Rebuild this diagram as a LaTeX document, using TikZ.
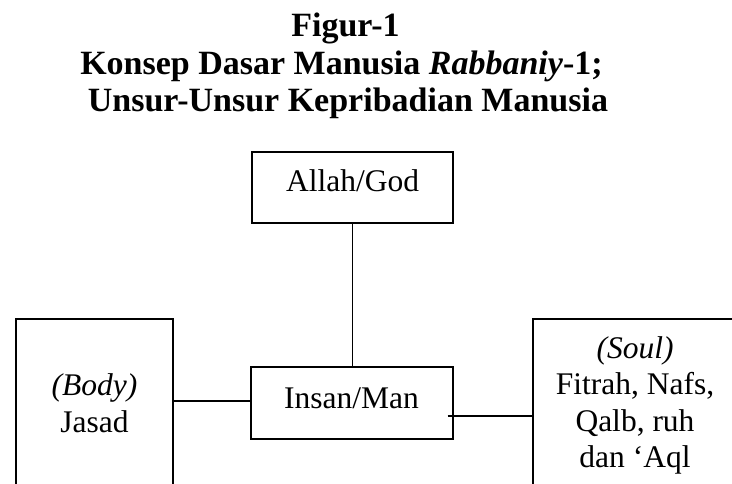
\documentclass[tikz,border=0pt]{standalone}
\usepackage{fontspec}
\setmainfont{Liberation Serif}
\begin{document}
\begin{tikzpicture}[x=1pt,y=-1pt,
  boxshape/.style={draw, line width=1.4pt, rectangle, inner sep=0pt},
  link/.style={line width=1.4pt},
  txt/.style={font=\fontsize{31.5}{36}\selectfont, inner sep=0pt, anchor=base},
  ttl/.style={font=\fontsize{34}{38}\selectfont\bfseries, inner sep=0pt, anchor=base}]
\useasboundingbox (0,0) rectangle (732,484);
\clip (0,0) rectangle (732,484);
% title
\node[ttl] (t1) at (345.5,37) {Figur-1};
\node[ttl] (t2) at (341.5,75) {Konsep Dasar Manusia \textit{Rabbaniy}-1;};
\node[ttl] (t3) at (348,112) {Unsur-Unsur Kepribadian Manusia};
% boxes
\node[boxshape, minimum width=201pt, minimum height=71pt] (allah) at (352.5,187.5) {};
\node[boxshape, minimum width=202pt, minimum height=72pt] (insan) at (352,403) {};
\node[boxshape, minimum width=157pt, minimum height=281pt] (body) at (94.5,459.5) {};
\node[boxshape, minimum width=206pt, minimum height=281pt] (soul) at (636,459.5) {};
% texts
\node[txt] (allahT) at (352.5,192) {Allah/God};
\node[txt] (insanT) at (351.5,408) {Insan/Man};
\node[txt] (bodyA) at (94.5,395) {\textit{(Body)}};
\node[txt] (bodyB) at (94.5,432) {Jasad};
\node[txt] (soulA) at (635,358) {\textit{(Soul)}};
\node[txt] (soulB) at (635,394.5) {Fitrah, Nafs,};
\node[txt] (soulC) at (635,431) {Qalb, ruh};
\node[txt] (soulD) at (635,467.5) {dan ‘Aql};
% connectors
\draw[link] (allah.south) -- (allah.south |- insan.north);
\coordinate (bj) at ([yshift=2pt]insan.west);
\draw[link] (bj -| body.east) -- (bj);
\coordinate (sj) at ([xshift=-6pt,yshift=-13pt]insan.east);
\draw[link] (sj) -- (sj -| soul.west);
\end{tikzpicture}
\end{document}
